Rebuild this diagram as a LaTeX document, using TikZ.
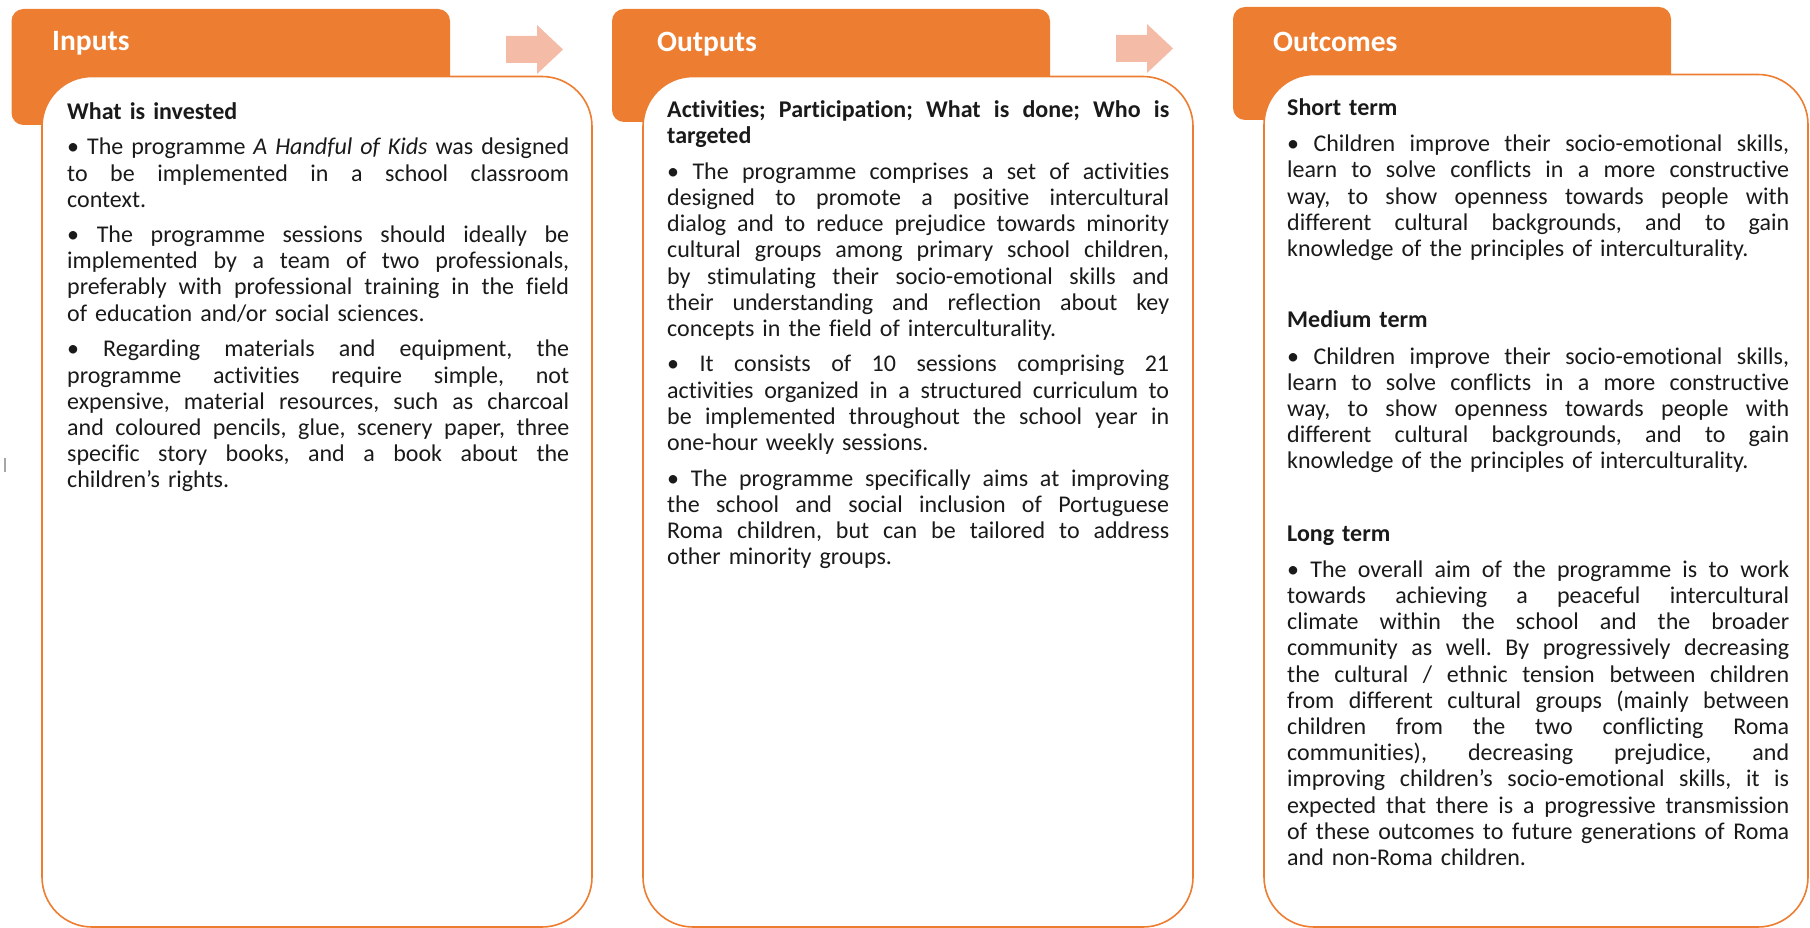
\documentclass[tikz,border=0pt]{standalone}
\usepackage{fontspec}
\setmainfont{Carlito}[Ligatures=NoCommon]
\definecolor{orng}{HTML}{ED7D31}
\definecolor{arrw}{HTML}{F4BCA6}
\definecolor{txt}{HTML}{1A1A1A}
\newlength{\tw}\setlength{\tw}{502pt}
\newcommand{\jl}[1]{\makebox[\tw][s]{\spaceskip=0.23em plus 2em minus 0.05em\xspaceskip=\spaceskip #1}}
\frenchspacing
\begin{document}
\begin{tikzpicture}[x=1pt,y=-1pt,
  tab/.style={fill=orng, rounded corners=12pt},
  card/.style={draw=orng, fill=white, line width=1.6pt, rounded corners=50pt},
  flow/.style={fill=arrw},
  head/.style={anchor=base west, inner sep=0pt, text=white, font={\fontsize{29.5}{32}\selectfont\bfseries}},
  body/.style={anchor=base west, inner sep=0pt, text=txt, text width=502pt, align=left, font={\fontsize{24}{26.2}\selectfont\frenchspacing}},
  sub/.style={body, font={\fontsize{24}{26.2}\selectfont\bfseries\frenchspacing}},
]
\useasboundingbox (0,0) rectangle (1810,928);

% tabs
\fill[tab] (11.5,9) rectangle (450,125);
\fill[tab] (612,9) rectangle (1050,122);
\fill[tab] (1233,7) rectangle (1671,120);

% cards
\draw[card] (42,76.5) rectangle (592,927);
\draw[card] (643,76.5) rectangle (1193,927);
\draw[card] (1264,74.5) rectangle (1808,927);

% block arrows
\fill[flow] (506,36) -- (537,36) -- (537,25) -- (563,49.5) -- (537,74) -- (537,63) -- (506,63) -- cycle;
\fill[flow] (1116,35) -- (1147,35) -- (1147,24) -- (1173,48.5) -- (1147,73) -- (1147,62) -- (1116,62) -- cycle;

% stray tick
\draw[gray!70, line width=2pt] (5,458) -- (5,472);

% headers
\node[head] (hin) at (52,50.5) {Inputs};
\node[head] (hout) at (657,52) {Outputs};
\node[head] (hoc) at (1273,52) {Outcomes};

% Inputs column
\node[sub] (in0) at (67,119.4) {What is invested};
\node[body] (in1) at (67,155) {\jl{• The programme \textit{A Handful of Kids} was designed}\\
\jl{to be implemented in a school classroom}\\
context.};
\node[body] (in2) at (67,242.6) {\jl{• The programme sessions should ideally be}\\
\jl{implemented by a team of two professionals,}\\
\jl{preferably with professional training in the field}\\
of education and/or social sciences.};
\node[body] (in3) at (67,356.8) {\jl{• Regarding materials and equipment, the}\\
\jl{programme activities require simple, not}\\
\jl{expensive, material resources, such as charcoal}\\
\jl{and coloured pencils, glue, scenery paper, three}\\
\jl{specific story books, and a book about the}\\
children’s rights.};

% Outputs column
\node[sub] (out0) at (667,117.3) {\jl{Activities; Participation; What is done; Who is}\\
targeted};
\node[body] (out1) at (667,179.4) {\jl{• The programme comprises a set of activities}\\
\jl{designed to promote a positive intercultural}\\
\jl{dialog and to reduce prejudice towards minority}\\
\jl{cultural groups among primary school children,}\\
\jl{by stimulating their socio-emotional skills and}\\
\jl{their understanding and reflection about key}\\
concepts in the field of interculturality.};
\node[body] (out2) at (667,371.8) {\jl{• It consists of 10 sessions comprising 21}\\
\jl{activities organized in a structured curriculum to}\\
\jl{be implemented throughout the school year in}\\
one-hour weekly sessions.};
\node[body] (out3) at (667,486) {\jl{• The programme specifically aims at improving}\\
\jl{the school and social inclusion of Portuguese}\\
\jl{Roma children, but can be tailored to address}\\
other minority groups.};

% Outcomes column
\node[sub] (oc0) at (1287,115.2) {Short term};
\node[body] (oc1) at (1287,151.8) {\jl{• Children improve their socio-emotional skills,}\\
\jl{learn to solve conflicts in a more constructive}\\
\jl{way, to show openness towards people with}\\
\jl{different cultural backgrounds, and to gain}\\
knowledge of the principles of interculturality.};
\node[sub] (oc2) at (1287,327.6) {Medium term};
\node[body] (oc3) at (1287,364) {\jl{• Children improve their socio-emotional skills,}\\
\jl{learn to solve conflicts in a more constructive}\\
\jl{way, to show openness towards people with}\\
\jl{different cultural backgrounds, and to gain}\\
knowledge of the principles of interculturality.};
\node[sub] (oc4) at (1287,541) {Long term};
\node[body] (oc5) at (1287,577.2) {\jl{• The overall aim of the programme is to work}\\
\jl{towards achieving a peaceful intercultural}\\
\jl{climate within the school and the broader}\\
\jl{community as well. By progressively decreasing}\\
\jl{the cultural / ethnic tension between children}\\
\jl{from different cultural groups (mainly between}\\
\jl{children from the two conflicting Roma}\\
\jl{communities), decreasing prejudice, and}\\
\jl{improving children’s socio-emotional skills, it is}\\
\jl{expected that there is a progressive transmission}\\
\jl{of these outcomes to future generations of Roma}\\
and non-Roma children.};
\end{tikzpicture}
\end{document}
